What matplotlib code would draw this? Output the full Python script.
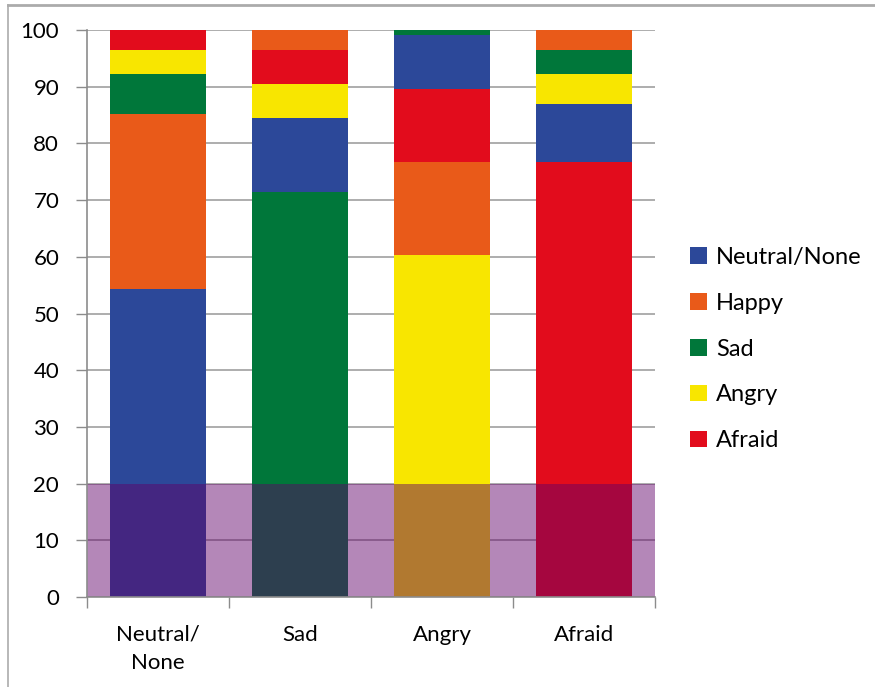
import numpy as np
import matplotlib.pyplot as plt
from matplotlib.patches import Patch
from matplotlib.lines import Line2D

# ------------------------------------------------------------------
# data: percentage of responses per presented emotion
# ------------------------------------------------------------------
categories = ["Neutral/\nNone", "Sad", "Angry", "Afraid"]
emotions   = ["Neutral/None", "Happy", "Sad", "Angry", "Afraid"]

neutral = [54.3, 13.0,  9.5, 10.3]
happy   = [30.8,  3.5, 16.4,  3.5]
sad     = [ 7.1, 71.5,  0.9,  4.3]
angry   = [ 4.3,  6.0, 60.3,  5.2]
afraid  = [ 3.5,  6.0, 12.9, 76.7]

# bottom-to-top stacking order inside each bar
stack_order = [
    ["Neutral/None", "Happy", "Sad", "Angry", "Afraid"],
    ["Sad", "Neutral/None", "Angry", "Afraid", "Happy"],
    ["Angry", "Happy", "Afraid", "Neutral/None", "Sad"],
    ["Afraid", "Neutral/None", "Angry", "Sad", "Happy"],
]

band_top = 20

values = dict(zip(emotions, [neutral, happy, sad, angry, afraid]))
colors = {"Neutral/None": "#2c4899", "Happy": "#e95a19", "Sad": "#00773a",
          "Angry": "#f8e600", "Afraid": "#e20c1c"}

plt.rcParams["font.family"] = ["Lato", "DejaVu Sans"]

fig = plt.figure(figsize=(8.75, 6.87), dpi=100)
ax = fig.add_axes([87 / 875, 1 - 597 / 687, (655 - 87) / 875, (597 - 30) / 687])

x = np.arange(len(categories))
for i, order in enumerate(stack_order):
    bottom = 0.0
    for emo in order:
        v = values[emo][i]
        ax.bar(x[i], v, width=0.68, bottom=bottom, color=colors[emo],
               linewidth=0, zorder=1)
        bottom += v

# translucent highlight band across the bottom of the plot
ax.axhspan(0, band_top, color="#610068", alpha=0.47, lw=0, zorder=2)

ax.set_xlim(-0.5, len(categories) - 0.5)
ax.set_ylim(0, 100)
ax.set_yticks(np.arange(0, 101, 10))
ax.set_xticks(x)
ax.set_xticklabels(categories, fontsize=16, linespacing=1.5)
ax.set_xticks(np.arange(-0.5, len(categories), 1), minor=True)
ax.tick_params(axis="x", which="major", length=0, pad=20)
ax.tick_params(axis="x", which="minor", length=8, color="#8c8c8c", width=1)
ax.tick_params(axis="y", length=8, color="#8c8c8c", width=1, labelsize=16, pad=12)
ax.yaxis.grid(True, color="#a0a0a0", lw=1.2)
ax.set_axisbelow(True)
for side in ["top", "right"]:
    ax.spines[side].set_visible(False)
for side in ["left", "bottom"]:
    ax.spines[side].set_color("#8c8c8c")
    ax.spines[side].set_linewidth(1.2)

handles = [Patch(facecolor=colors[e], edgecolor="none") for e in emotions]
fig.legend(handles, emotions, loc="center left",
           bbox_to_anchor=(690 / 875, 1 - 349 / 687), frameon=False,
           fontsize=17, handlelength=0.7, handleheight=0.7,
           handletextpad=0.4, labelspacing=1.05, borderpad=0, borderaxespad=0)

# outer frame (top and left edges)
fig.add_artist(Line2D([8 / 875, 1], [1 - 5 / 687] * 2, color="#ababab", lw=2))
fig.add_artist(Line2D([8 / 875] * 2, [0, 1 - 5 / 687], color="#ababab", lw=1.2))

fig.savefig("out.png", dpi=100)
